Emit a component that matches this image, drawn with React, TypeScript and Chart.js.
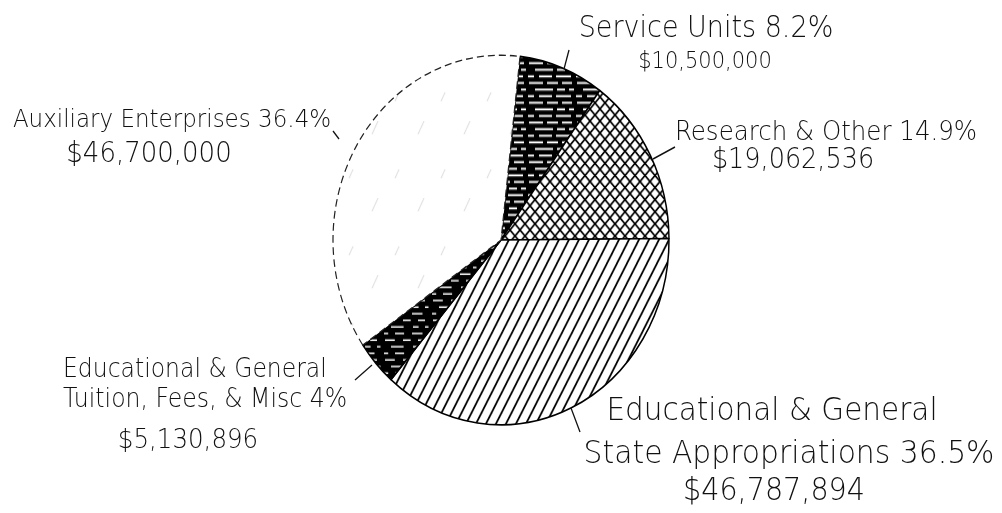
import React, { useEffect, useRef } from "react";
import { Chart, registerables } from "chart.js";

Chart.register(...registerables);

// ---------- data ----------
const categories = [
  "Service Units",
  "Research & Other",
  "Educational & General State Appropriations",
  "Educational & General Tuition, Fees, & Misc",
  "Auxiliary Enterprises",
];
const amounts = [10500000, 19062536, 46787894, 5130896, 46700000];
const percentLabels = ["8.2%", "14.9%", "36.5%", "4%", "36.4%"];
const amountLabels = ["$10,500,000", "$19,062,536", "$46,787,894", "$5,130,896", "$46,700,000"];
const titleLines = [
  ["Service Units"],
  ["Research & Other"],
  ["Educational & General", "State Appropriations"],
  ["Educational & General", "Tuition, Fees, & Misc"],
  ["Auxiliary Enterprises"],
];

// ---------- presentation ----------
const SY = 1.1; // the scanned original is stretched vertically
const FONT = '"DejaVu Sans", "Liberation Sans", sans-serif';
const WEIGHT = 200;

type LineSpec = { x: number; y: number; size: number; align: CanvasTextAlign };
type LabelSpec = { lines: LineSpec[]; leader: [number, number, number, number] };

const labelLayout: LabelSpec[] = [
  {
    lines: [
      { x: 706, y: 37, size: 27, align: "center" },
      { x: 705, y: 68, size: 21, align: "center" },
    ],
    leader: [569, 50, 564, 69],
  },
  {
    lines: [
      { x: 826, y: 140, size: 24.5, align: "center" },
      { x: 793, y: 168, size: 25.5, align: "center" },
    ],
    leader: [675, 147, 653, 159],
  },
  {
    lines: [
      { x: 772, y: 420, size: 29.5, align: "center" },
      { x: 789, y: 463, size: 29.8, align: "center" },
      { x: 774, y: 500, size: 28.6, align: "center" },
    ],
    leader: [571, 408, 580, 432],
  },
  {
    lines: [
      { x: 63, y: 377, size: 23.5, align: "left" },
      { x: 63, y: 407, size: 23.6, align: "left" },
      { x: 188, y: 448, size: 24.5, align: "center" },
    ],
    leader: [372, 365, 355, 380],
  },
  {
    lines: [
      { x: 172, y: 127, size: 23, align: "center" },
      { x: 149, y: 162, size: 26, align: "center" },
    ],
    leader: [333, 131, 339, 139],
  },
];

function labelTexts(i: number): string[] {
  const t = titleLines[i].slice();
  t[t.length - 1] = t[t.length - 1] + " " + percentLabels[i];
  return [...t, amountLabels[i]];
}

function makePattern(w: number, h: number, draw: (c: CanvasRenderingContext2D) => void) {
  const cv = document.createElement("canvas");
  cv.width = w;
  cv.height = h;
  const c = cv.getContext("2d")!;
  draw(c);
  return c.createPattern(cv, "repeat")!;
}

function buildPatterns() {
  // black with broken white horizontal streaks (staggered rows)
  const streaks = (dark: boolean) =>
    makePattern(48, 18, (c) => {
      c.fillStyle = "#000";
      c.fillRect(0, 0, 48, 18);
      c.fillStyle = "#fff";
      const rows: [number, [number, number][]][] = [
        [2.5, [[1, 14], [19, 11], [34, 10]]],
        [8.5, [[7, 18], [29, 8], [41, 5]]],
        [14.5, [[0, 6], [11, 13], [28, 15]]],
      ];
      for (const [y, segs] of rows) {
        for (const [x, w] of segs) {
          c.fillRect(x, y, dark ? w * 0.7 : w, dark ? 1.4 : 1.8);
        }
      }
    });
  const cross = makePattern(10, 11, (c) => {
    c.fillStyle = "#fff";
    c.fillRect(0, 0, 10, 11);
    c.strokeStyle = "#000";
    c.lineWidth = 1.6;
    for (const dx of [-10, 0, 10]) {
      c.beginPath();
      c.moveTo(dx, 0);
      c.lineTo(dx + 10, 11);
      c.moveTo(dx, 11);
      c.lineTo(dx + 10, 0);
      c.stroke();
    }
  });
  const diag = makePattern(10, 18, (c) => {
    c.fillStyle = "#fff";
    c.fillRect(0, 0, 10, 18);
    c.strokeStyle = "#000";
    c.lineWidth = 1.8;
    for (const dx of [-10, 0, 10]) {
      c.beginPath();
      c.moveTo(dx - 1, 19.8);
      c.lineTo(dx + 11, -1.8);
      c.stroke();
    }
  });
  const faint = makePattern(46, 70, (c) => {
    c.fillStyle = "#fff";
    c.fillRect(0, 0, 46, 70);
    c.strokeStyle = "rgba(0,0,0,0.16)";
    c.lineWidth = 0.9;
    c.beginPath();
    c.moveTo(4, 52);
    c.lineTo(10, 40);
    c.moveTo(27, 22);
    c.lineTo(31, 14);
    c.stroke();
  });
  return [streaks(false), cross, diag, streaks(true), faint];
}

const stretchPlugin = {
  id: "stretchAndLabels",
  beforeDraw(chart: any) {
    const ctx: CanvasRenderingContext2D = chart.ctx;
    ctx.save();
    ctx.scale(1, SY);
  },
  afterDraw(chart: any) {
    const ctx: CanvasRenderingContext2D = chart.ctx;
    ctx.fillStyle = "#111";
    ctx.strokeStyle = "#111";
    ctx.textBaseline = "alphabetic";
    labelLayout.forEach((spec, i) => {
      const texts = labelTexts(i);
      texts.forEach((t, j) => {
        const l = spec.lines[j];
        ctx.font = `${WEIGHT} ${l.size}px ${FONT}`;
        ctx.textAlign = l.align;
        ctx.fillText(t, l.x, l.y / SY);
      });
      const [x1, y1, x2, y2] = spec.leader;
      ctx.lineWidth = 1.3;
      ctx.beginPath();
      ctx.moveTo(x1, y1 / SY);
      ctx.lineTo(x2, y2 / SY);
      ctx.stroke();
    });
    ctx.restore();
  },
};

export default function App() {
  const ref = useRef<HTMLCanvasElement>(null);
  useEffect(() => {
    if (!ref.current) return;
    const patterns = buildPatterns();
    const chart = new Chart(ref.current, {
      type: "pie",
      data: {
        labels: categories,
        datasets: [
          {
            data: amounts,
            backgroundColor: patterns as any,
            borderColor: ["#000", "#000", "#000", "#000", "#222"],
            borderWidth: [1.5, 1.5, 1.5, 1.5, 1.2],
            borderDash: ((c: any) => (c.dataIndex === 4 ? [7, 4] : [])) as any,
          } as any,
        ],
      },
      options: {
        animation: false,
        responsive: false,
        rotation: 6.5,
        radius: 168,
        layout: { padding: { left: 300, right: 300, top: 20, bottom: 96.6 } },
        plugins: { legend: { display: false }, tooltip: { enabled: false } },
        events: [],
      } as any,
      plugins: [stretchPlugin as any],
    });
    return () => chart.destroy();
  }, []);
  return (
    <div style={{ position: "fixed", left: 0, top: 0, width: 1002, height: 513, background: "#fff" }}>
      <canvas ref={ref} width={1002} height={513} style={{ width: 1002, height: 513, display: "block" }} />
    </div>
  );
}
